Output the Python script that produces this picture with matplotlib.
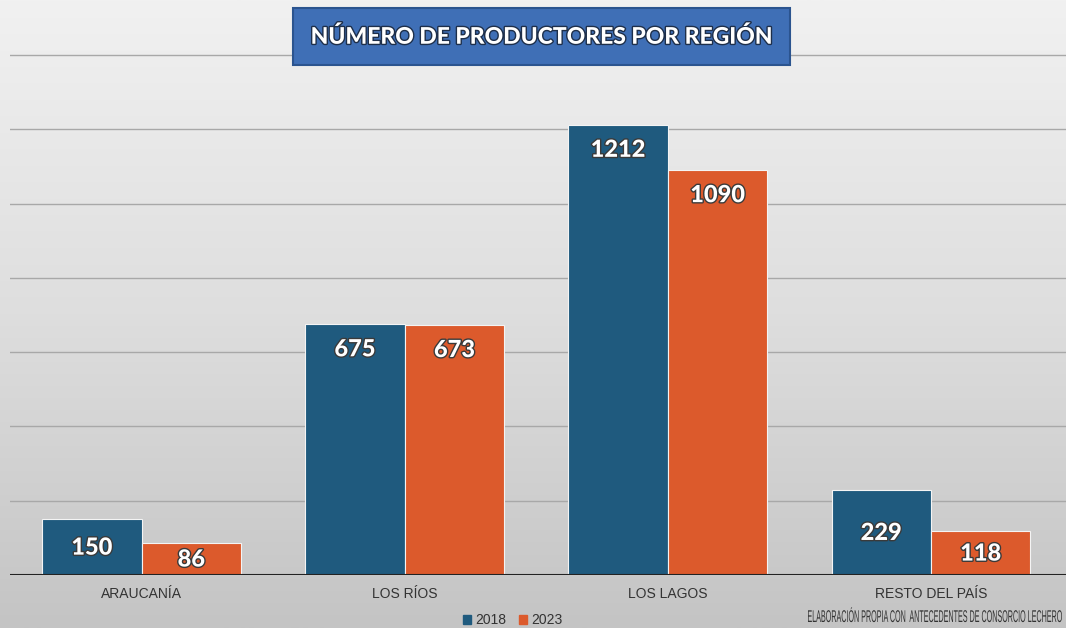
import matplotlib
matplotlib.use("Agg")
import matplotlib.pyplot as plt
import matplotlib.patheffects as pe
from matplotlib.patches import Rectangle, PathPatch
from matplotlib.textpath import TextPath
from matplotlib.font_manager import FontProperties
from matplotlib.transforms import Affine2D
import numpy as np

regions = ["ARAUCANÍA", "LOS RÍOS", "LOS LAGOS", "RESTO DEL PAÍS"]
years = ["2018", "2023"]
prod_2018 = [150, 675, 1212, 229]
prod_2023 = [86, 673, 1090, 118]
title = "NÚMERO DE PRODUCTORES POR REGIÓN"
note = "ELABORACIÓN PROPIA CON  ANTECEDENTES DE CONSORCIO LECHERO"

BLUE = "#1f5a7e"
ORANGE = "#dc5a2c"
W, H = 1066, 628

plt.rcParams["font.family"] = ["Lato", "DejaVu Sans"]

fig = plt.figure(figsize=(W / 100, H / 100), dpi=100)

# background gradient over whole figure
bg = fig.add_axes([0, 0, 1, 1], zorder=-10)
grad = np.linspace(0, 1, 256).reshape(-1, 1)
bg.imshow(grad, cmap=matplotlib.colors.LinearSegmentedColormap.from_list(
    "bg", ["#f1f1f1", "#dedede", "#c4c4c4"]), aspect="auto", extent=[0, 1, 0, 1])
bg.axis("off")

axe = fig.add_axes([10 / W, 53 / H, 1 - 10 / W, 575 / H])
axe.patch.set_alpha(0)
x = np.arange(len(regions))
width = 0.378

for offset, values, color in ((-width / 2, prod_2018, BLUE),
                              (width / 2, prod_2023, ORANGE)):
    bars = axe.bar(x + offset, values, width, color=color,
                   edgecolor="#f4f4f4", linewidth=0.8, zorder=3)
    for rect, val in zip(bars, values):
        # label near the top of tall bars, mid-bar for short ones
        ypos = val - 66 if val >= 300 else val * 0.5
        axe.text(rect.get_x() + rect.get_width() / 2, ypos, str(val),
                 ha="center", va="center", color="white", fontsize=17,
                 fontweight="black", zorder=4,
                 path_effects=[pe.withStroke(linewidth=2, foreground="#3a3a3a")])

axe.set_xlim(-0.5, 3.513)
axe.set_ylim(0, 1548)
axe.set_yticks(np.arange(200, 1401, 200))
axe.yaxis.grid(True, color="#a8a8a8", linewidth=1.0, zorder=0)
axe.axhline(0, color="#222222", linewidth=1.5, zorder=5)
axe.tick_params(axis="y", left=False, labelleft=False)
axe.tick_params(axis="x", bottom=False, pad=5)
axe.set_xticks(x)
axe.set_xticklabels(regions, fontsize=10, color="#333333",
                    family=["Liberation Sans", "DejaVu Sans"])
for spine in axe.spines.values():
    spine.set_visible(False)

# legend
handles = [Rectangle((0, 0), 1, 1, color=BLUE), Rectangle((0, 0), 1, 1, color=ORANGE)]
fig.legend(handles, years, loc="center", bbox_to_anchor=(513 / W, 1 - 620 / H),
           ncol=2, frameon=False, handlelength=0.6, handleheight=0.6,
           handletextpad=0.3, columnspacing=0.9, labelcolor="#333333",
           prop={"family": ["Liberation Sans", "DejaVu Sans"], "size": 10})

# source note, condensed horizontally to fit
tp = TextPath((0, 0), note, size=17, prop=FontProperties(family="Liberation Sans"))
ext = tp.get_extents()
sx = 254 / ext.width
trans = (Affine2D().translate(-ext.x0, 0).scale(sx, 1).translate(808, H - 622)
         .scale(1 / W, 1 / H) + fig.transFigure)
fig.patches.append(PathPatch(tp, transform=trans, facecolor="#333333",
                             edgecolor="none"))

# title box
fig.patches.append(Rectangle((293 / W, 1 - 65 / H), 497 / W, 57 / H,
                             transform=fig.transFigure, facecolor="#3f6fb6",
                             edgecolor="#2b548f", linewidth=1.5, zorder=6))
fig.text(541 / W, 1 - 37 / H, title,
         ha="center", va="center", color="white", fontsize=16.5,
         fontweight="black", zorder=7,
         path_effects=[pe.withStroke(linewidth=2, foreground="#1e2f4a")])

fig.savefig("out.png", dpi=100)
